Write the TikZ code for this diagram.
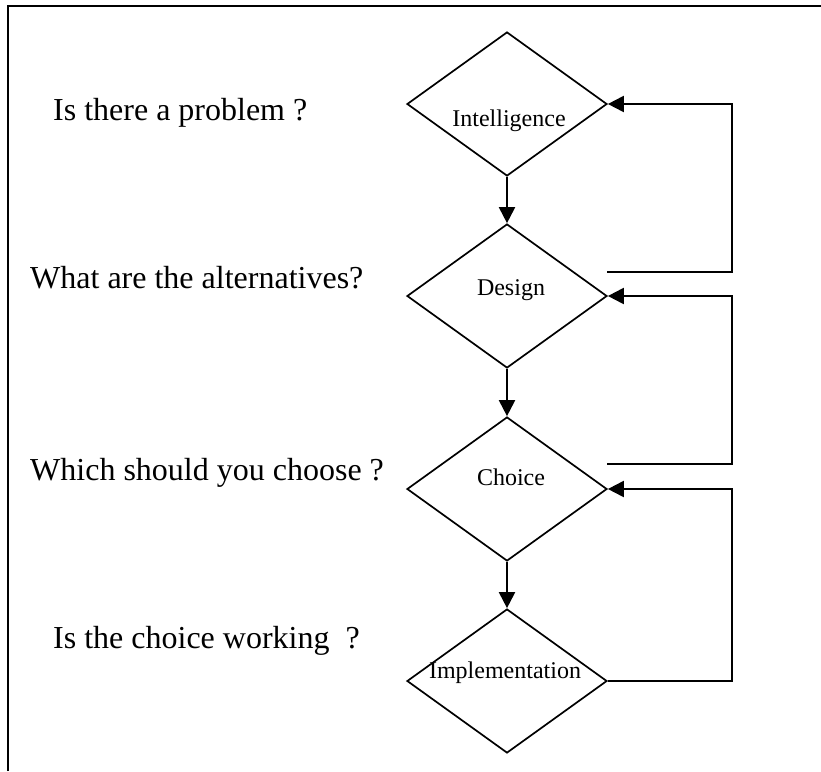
\documentclass[tikz,border=0pt]{standalone}
\usepackage{fontspec}
\setmainfont{Liberation Serif}
\usetikzlibrary{shapes.geometric,arrows.meta}
\begin{document}
\begin{tikzpicture}[x=1pt,y=-1pt,
  ln/.style={line width=2pt,black},
  dia/.style={diamond,draw,line width=1.7pt,minimum width=200pt,minimum height=144pt,inner sep=0pt},
  arr/.style={ln,-{Triangle[length=16pt,width=16pt]}},
  qlabel/.style={anchor=base west,inner sep=0pt,font=\fontsize{32}{38}\selectfont},
  dlabel/.style={anchor=base,inner sep=0pt,font=\fontsize{24}{29}\selectfont}]
\useasboundingbox (0,0) rectangle (821,771);
% frame
\draw[ln] (8,771) -- (8,6) -- (821,6);
% diamonds
\node[dia] (d1) at (507,104) {};
\node[dia] (d2) at (507,296) {};
\node[dia] (d3) at (507,489) {};
\node[dia] (d4) at (507,681) {};
% diamond labels
\node[dlabel] (t1) at (509,126) {Intelligence};
\node[dlabel] (t2) at (511,295) {Design};
\node[dlabel] (t3) at (511,485) {Choice};
\node[dlabel] (t4) at (505,678) {Implementation};
% question labels
\node[qlabel] (q1) at (53,120) {Is there a problem ?};
\node[qlabel] (q2) at (30,288) {What are the alternatives?};
\node[qlabel] (q3) at (30,480) {Which should you choose ?};
\node[qlabel] (q4) at (53,648) {Is the choice working\ \ ?};
% forward arrows
\draw[arr] (d1.south) -- (d2.north);
\draw[arr] (d2.south) -- (d3.north);
\draw[arr] (d3.south) -- (d4.north);
% feedback loops
\coordinate (f1) at (607,272);
\coordinate (c1) at (732,272);
\coordinate (f2) at (607,464);
\coordinate (c2) at (732,464);
\coordinate (c3) at (732,681);
\draw[arr] (f1) -- (c1) |- (d1.east);
\draw[arr] (f2) -- (c2) |- (d2.east);
\draw[arr] (d4.east) -- (c3) |- (d3.east);
\end{tikzpicture}
\end{document}
